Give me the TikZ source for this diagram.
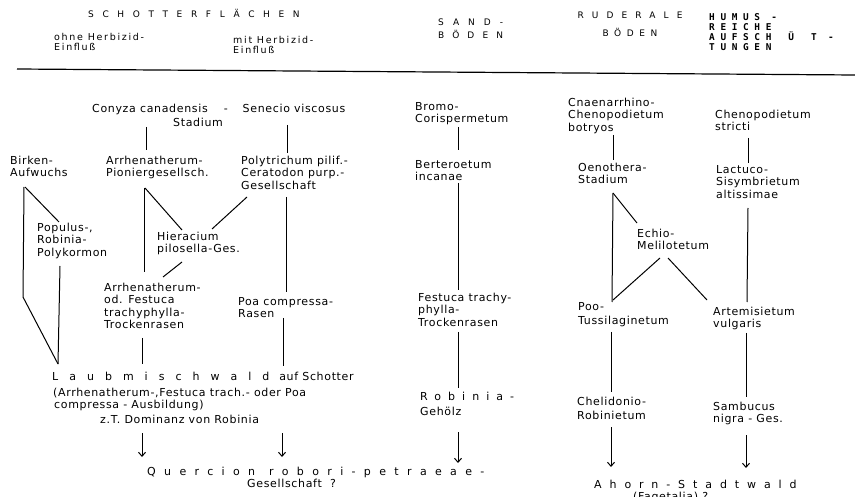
\documentclass[tikz,border=0pt]{standalone}
\usepackage{fontspec}
\setmainfont{DejaVu Sans}[LetterSpace=6]
\newfontfamily\monofont{DejaVu Sans Mono}
\usetikzlibrary{arrows.meta,calc}
\newcommand\gesperrt[2]{{\addfontfeatures{LetterSpace=#1}#2}}

\begin{document}
\begin{tikzpicture}[
    x=1pt, y=-1pt,
    txt/.style={anchor=north west, inner sep=0pt, align=left,
                font=\fontsize{11}{12.4}\selectfont},
    kopf/.style={anchor=north west, inner sep=0pt, align=left,
                 font=\fontsize{9}{13}\selectfont},
    klein/.style={anchor=north west, inner sep=0pt, align=left,
                  font=\fontsize{9.5}{10.3}\selectfont\addfontfeatures{LetterSpace=18}},
    ln/.style={line width=1pt},
    arr/.style={ln, -{Straight Barb[length=4pt,width=7pt]}}
]
\useasboundingbox (0,0) rectangle (855,497);

\node[kopf, anchor=base west] (schotter) at (88,17.3) {\gesperrt{96}{SCHOTTERFLÄCHEN}};
\node[klein] (ohne) at (54,33) {ohne Herbizid-\\Einfluß};
\node[klein] (mit) at (233,36) {mit Herbizid-\\Einfluß};
\node[kopf] (sand) at (438,18.7) {\gesperrt{100}{SAND-}\\\gesperrt{90}{BÖDEN}};
\node[kopf, anchor=north, align=center] (ruderal) at (630,11.7)
    {\gesperrt{90}{RUDERALE}\\[5pt]\gesperrt{62}{BÖDEN}};
\node[kopf, font=\fontsize{9.4}{10}\selectfont\monofont\bfseries] (humus) at (709,13.7)
    {H U M U S\ \ -\\R E I C H E\\A U F S C H\ \ \ Ü\ \ \ T\ \ -\\T U N G E N};
\draw[line width=1.2pt] (17,69) -- (855,75);

\node[txt] (stadium) at (92,104)
    {Conyza canadensis\hspace{16pt}-\hspace{15pt}Senecio viscosus\\[1.5pt]\hspace*{81pt}Stadium};
\node[txt] (birken) at (10,156) {Birken-\\Aufwuchs};
\node[txt] (pionier) at (106,156) {Arrhenatherum-\\Pioniergesellsch.};
\node[txt] (poly) at (241,156) {Polytrichum pilif.-\\Ceratodon purp.-\\Gesellschaft};
\node[txt] (bromo) at (415,102) {Bromo-\\Corispermetum};
\node[txt] (bertero) at (415,160) {Berteroetum\\incanae};
\node[txt] (cnaen) at (568,98) {Cnaenarrhino-\\Chenopodietum\\botryos};
\node[txt] (stricti) at (715,110) {Chenopodietum\\stricti};
\node[txt] (oeno) at (578,163) {Oenothera-\\Stadium};
\node[txt] (lactuco) at (716,165) {Lactuco-\\Sisymbrietum\\altissimae};
\node[txt] (echio) at (637,229) {Echio-\\Melilotetum};
\node[txt] (populus) at (37,223) {Populus-,\\Robinia-\\Polykormon};
\node[txt] (hier) at (157,232) {Hieracium\\pilosella-Ges.};
\node[txt] (arrod) at (104,283) {Arrhenatherum-\\od. Festuca\\trachyphylla-\\Trockenrasen};
\node[txt] (poa) at (238,297) {Poa compressa-\\Rasen};
\node[txt] (festuca) at (418,293) {Festuca trachy-\\phylla-\\Trockenrasen};
\node[txt] (poo) at (578,302) {Poo-\\[1.5pt]Tussilaginetum};
\node[txt] (artem) at (713,307) {Artemisietum\\vulgaris};
\node[txt] (laub) at (52,372) {\gesperrt{100}{Laubmischwald}\hspace{10pt}auf Schotter};
\node[txt] (ausb) at (53,388)
    {(Arrhenatherum-,Festuca trach.- oder Poa\\\hspace*{1pt}compressa - Ausbildung)\\[2pt]\hspace*{47pt}z.T. Dominanz von Robinia};
\node[txt] (robinia) at (420,392) {\gesperrt{64}{Robinia-}\\[3pt]Gehölz};
\node[txt] (chel) at (577,397) {Chelidonio-\\[2pt]Robinietum};
\node[txt] (samb) at (713,402) {Sambucus\\nigra - Ges.};
\node[txt] (quercion) at (147,467)
    {\gesperrt{76}{Quercion}\hspace{14pt}\gesperrt{76}{robori-petraeae-}\\\hspace*{100pt}Gesellschaft\ \ ?};
\node[txt] (ahorn) at (594,480) {\gesperrt{72}{Ahorn-Stadtwald}\\\hspace*{39pt}(Fagetalia)\ ?};

\draw[ln] ($(stadium.north west)+(54,23)$) -- ($(pionier.north west)+(40,-6)$);
\draw[ln] ($(stadium.north west)+(195,21)$) -- ($(poly.north west)+(46,-3)$);
\draw[ln] ($(birken.north west)+(15,31)$) -- ($(populus.north west)+(22,-1)$);
\draw[ln] ($(birken.north west)+(14,31)$) -- ($(birken.north west)+(13,141)$) -- ($(laub.north west)+(6,-8)$);
\draw[ln] ($(populus.north west)+(23,43)$) -- ($(laub.north west)+(6,-8)$);
\draw[ln] ($(pionier.north west)+(38,32)$) -- ($(arrod.north west)+(40,-11)$);
\draw[ln] ($(pionier.north west)+(39,32)$) -- ($(hier.north west)+(25,-2)$);
\draw[ln] ($(poly.north west)+(6,41)$) -- ($(hier.north west)+(55,-3)$);
\draw[ln] ($(hier.north west)+(25,30)$) -- ($(arrod.north west)+(59,-6)$);
\draw[ln] ($(poly.north west)+(45,41)$) -- ($(poa.north west)+(48,-5)$);
\draw[ln] ($(arrod.north west)+(38,55)$) -- ($(laub.north west)+(90,-8)$);
\draw[ln] ($(poa.north west)+(45,21)$) -- ($(laub.north west)+(231,-6)$);
\draw[ln] ($(bromo.north west)+(43,25)$) -- ($(bertero.north west)+(43,-10)$);
\draw[ln] ($(bertero.north west)+(43,23)$) -- ($(festuca.north west)+(40,-3)$);
\draw[ln] ($(festuca.north west)+(40,39)$) -- ($(robinia.north west)+(38,-4)$);
\draw[ln] ($(cnaen.north west)+(45,37)$) -- ($(oeno.north west)+(35,-3)$);
\draw[ln] ($(oeno.north west)+(35,30)$) -- ($(poo.north west)+(34,0)$);
\draw[ln] ($(oeno.north west)+(35,30)$) -- ($(echio.north west)+(0,-6)$);
\draw[ln] ($(echio.north west)+(23,29)$) -- ($(poo.north west)+(35,-2)$);
\draw[ln] ($(echio.north west)+(31,29)$) -- ($(artem.north west)+(-6,-7)$);
\draw[ln] ($(stricti.north west)+(33,28)$) -- ($(lactuco.north west)+(32,-2)$);
\draw[ln] ($(lactuco.north west)+(32,43)$) -- ($(artem.north west)+(34,-5)$);
\draw[ln] ($(poo.north west)+(33,30)$) -- ($(chel.north west)+(34,-5)$);
\draw[ln] ($(artem.north west)+(33,26)$) -- ($(samb.north west)+(33,-5)$);
\draw[arr] ($(ausb.north west)+(89,45)$) -- ($(quercion.north west)+(-5,-10)$);
\draw[arr] ($(ausb.north west)+(229,45)$) -- ($(quercion.north west)+(135,-10)$);
\draw[arr] ($(robinia.north west)+(38,40)$) -- ($(quercion.north west)+(311,-4)$);
\draw[arr] ($(chel.north west)+(34,30)$) -- ($(ahorn.north west)+(17,-13)$);
\draw[arr] ($(samb.north west)+(33,33)$) -- ($(ahorn.north west)+(152,-12)$);
\end{tikzpicture}
\end{document}
